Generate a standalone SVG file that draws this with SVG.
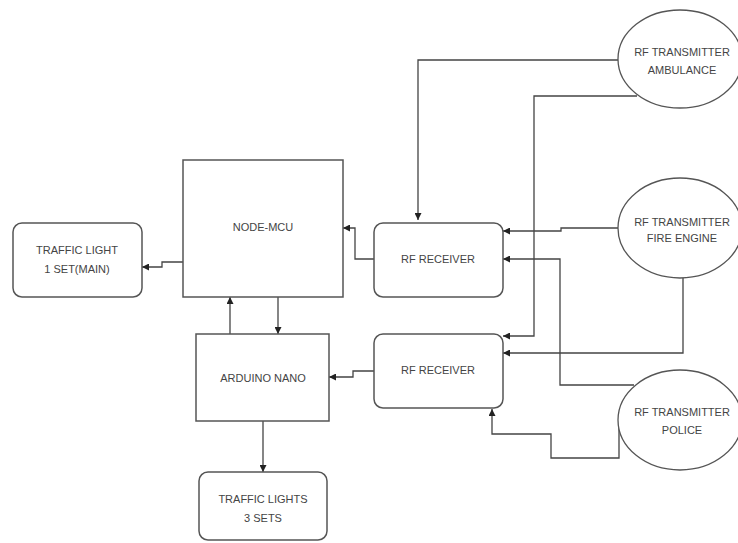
<svg xmlns="http://www.w3.org/2000/svg" width="738" height="543" viewBox="0 0 738 543">
<defs>
<marker id="arr" viewBox="0 0 10 10" refX="10" refY="5" markerWidth="7" markerHeight="7" markerUnits="userSpaceOnUse" orient="auto">
<path d="M0,0 L10,5 L0,10 z" fill="#222"/>
</marker>
<style>
.box{fill:#fff;stroke:#555;stroke-width:1.5}
.ell{fill:#fff;stroke:#555;stroke-width:1.3}
.t{font-family:"Liberation Sans",Arial,sans-serif;font-size:11px;fill:#444;text-anchor:middle}
.c{fill:none;stroke:#444;stroke-width:1.3;marker-end:url(#arr)}
</style>
</defs>
<rect width="738" height="543" fill="#fff"/>
<g id="connectors">
<path class="c" d="M618,60 H418 V220"/>
<path class="c" d="M637,96 H534 V336 H503"/>
<path class="c" d="M618,228 H561 V231 H503"/>
<path class="c" d="M683,278 V353 H503"/>
<path class="c" d="M634,385 H560 V259 H503"/>
<path class="c" d="M619,420 V458 H551 V434 H492 V409"/>
<path class="c" d="M374,259 H355 V228 H343"/>
<path class="c" d="M183,262 H162 V267 H142"/>
<path class="c" d="M374,371 H353 V377 H329"/>
<path class="c" d="M230,334 V297"/>
<path class="c" d="M278,297 V334"/>
<path class="c" d="M263,421 V472"/>
</g>
<g id="amb"><ellipse class="ell" cx="680" cy="59" rx="62" ry="49"/><text class="t" x="682" y="56">RF TRANSMITTER</text><text class="t" x="682" y="74">AMBULANCE</text></g>
<g id="fire"><ellipse class="ell" cx="680" cy="228" rx="62" ry="50"/><text class="t" x="682" y="226">RF TRANSMITTER</text><text class="t" x="682" y="242">FIRE ENGINE</text></g>
<g id="police"><ellipse class="ell" cx="680" cy="420" rx="62" ry="50"/><text class="t" x="682" y="416">RF TRANSMITTER</text><text class="t" x="682" y="434">POLICE</text></g>
<g id="nodemcu"><rect class="box" x="183" y="160" width="160" height="137"/><text class="t" x="263" y="231">NODE-MCU</text></g>
<g id="tl1"><rect class="box" x="13" y="223" width="129" height="74" rx="9"/><text class="t" x="77" y="254">TRAFFIC LIGHT</text><text class="t" x="77" y="273">1 SET(MAIN)</text></g>
<g id="rx1"><rect class="box" x="374" y="223" width="129" height="74" rx="9"/><text class="t" x="438" y="263">RF RECEIVER</text></g>
<g id="rx2"><rect class="box" x="374" y="334" width="129" height="74" rx="9"/><text class="t" x="438" y="374">RF RECEIVER</text></g>
<g id="arduino"><rect class="box" x="196" y="334" width="133" height="87"/><text class="t" x="263" y="382">ARDUINO NANO</text></g>
<g id="tl3"><rect class="box" x="199" y="472" width="128" height="68" rx="9"/><text class="t" x="263" y="503">TRAFFIC LIGHTS</text><text class="t" x="263" y="522">3 SETS</text></g>
</svg>
